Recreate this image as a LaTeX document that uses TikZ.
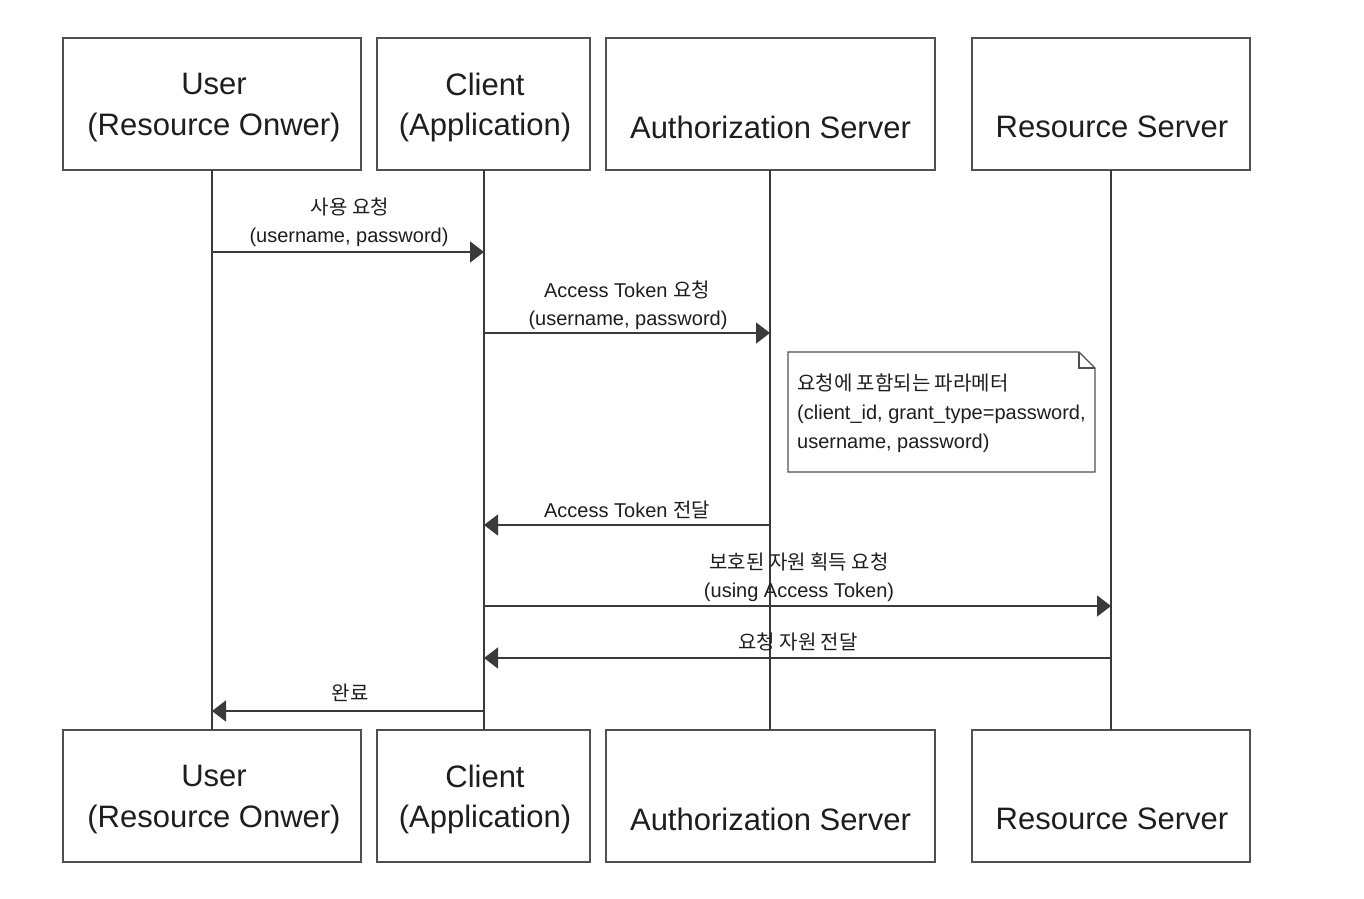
\documentclass[tikz,border=0pt]{standalone}
\usepackage{fontspec}
\setmainfont{Liberation Sans}
\newfontfamily\kr{Noto Sans CJK KR}
\usetikzlibrary{arrows.meta}
\definecolor{boxc}{HTML}{505050}
\definecolor{linec}{HTML}{3A3A3A}
\definecolor{txtc}{HTML}{1E1E1E}
\begin{document}
\begin{tikzpicture}[x=1pt,y=-1pt,
  actor/.style={draw=boxc,line width=1.6pt,minimum height=132pt,inner sep=0pt,fill=white},
  title/.style={font=\fontsize{31pt}{36pt}\selectfont,text=txtc,inner sep=0pt},
  lbl/.style={font=\fontsize{20pt}{24pt}\selectfont,text=txtc,inner sep=0pt},
  life/.style={draw=linec,line width=1.5pt},
  msg/.style={draw=linec,line width=1.5pt,-{Triangle[length=14pt,width=21pt]}},
  notebox/.style={draw=boxc,line width=1.4pt,fill=white}]
\useasboundingbox[fill=white] (0,0) rectangle (1364,898);
% top actors
\node[actor,minimum width=298pt] (u1) at (212,104) {};
\node[actor,minimum width=213pt] (c1) at (483.5,104) {};
\node[actor,minimum width=329pt] (a1) at (770.5,104) {};
\node[actor,minimum width=278pt] (r1) at (1111,104) {};
% bottom actors
\node[actor,minimum width=298pt] (u2) at (212,796) {};
\node[actor,minimum width=213pt] (c2) at (483.5,796) {};
\node[actor,minimum width=329pt] (a2) at (770.5,796) {};
\node[actor,minimum width=278pt] (r2) at (1111,796) {};
% titles
\foreach \n/\y in {1/0,2/692}{
  \node[title] (tu\n a) at (214,84+\y) {User};
  \node[title] (tu\n b) at (214,127+\y) {(Resource Onwer)};
  \node[title] (tc\n a) at (485,84+\y) {Client};
  \node[title] (tc\n b) at (485,127+\y) {(Application)};
  \node[title] (ta\n) at (770.5,127+\y) {Authorization Server};
  \node[title] (tr\n) at (1112,127+\y) {Resource Server};
}
% lifelines
\draw[life] (212,170) coordinate (lu1) -- (212,730) coordinate (lu2);
\draw[life] (484,170) coordinate (lc1) -- (484,730) coordinate (lc2);
\draw[life] (770,170) coordinate (la1) -- (770,730) coordinate (la2);
\draw[life] (1111,170) coordinate (lr1) -- (1111,730) coordinate (lr2);
% message end points
\coordinate (m1s) at (212,252); \coordinate (m1e) at (484,252);
\coordinate (m2s) at (484,333); \coordinate (m2e) at (770,333);
\coordinate (m4s) at (770,525); \coordinate (m4e) at (484,525);
\coordinate (m5s) at (484,606); \coordinate (m5e) at (1111,606);
\coordinate (m6s) at (1111,658); \coordinate (m6e) at (484,658);
\coordinate (m7s) at (484,711); \coordinate (m7e) at (212,711);
% messages
\draw[msg] (m1s) -- (m1e);
\node[lbl] (l1a) at (350,207) {{\kr 사용 요청}};
\node[lbl] (l1b) at (349,237) {(username, password)};
\draw[msg] (m2s) -- (m2e);
\node[lbl] (l2a) at (627,290) {Access Token {\kr 요청}};
\node[lbl] (l2b) at (628,320) {(username, password)};
% note
\draw[notebox] (788,352) -- (1079,352) -- (1095,368) -- (1095,472) -- (788,472) -- cycle;
\draw[boxc,line width=1.4pt] (1079,352) -- (1079,368) -- (1095,368);
\node[lbl,anchor=west] (n1) at (797,383) {{\kr 요청에 포함되는 파라메터}};
\node[lbl,anchor=west] (n2) at (797,414) {(client\_id, grant\_type=password,};
\node[lbl,anchor=west] (n3) at (797,443) {username, password)};
\draw[msg] (m4s) -- (m4e);
\node[lbl] (l4) at (627,510) {Access Token {\kr 전달}};
\draw[msg] (m5s) -- (m5e);
\node[lbl] (l5a) at (799,562) {{\kr 보호된 자원 획득 요청}};
\node[lbl] (l5b) at (799,592) {(using Access Token)};
\draw[msg] (m6s) -- (m6e);
\node[lbl] (l6) at (798,642) {{\kr 요청 자원 전달}};
\draw[msg] (m7s) -- (m7e);
\node[lbl] (l7) at (350,693) {{\kr 완료}};
\end{tikzpicture}
\end{document}
